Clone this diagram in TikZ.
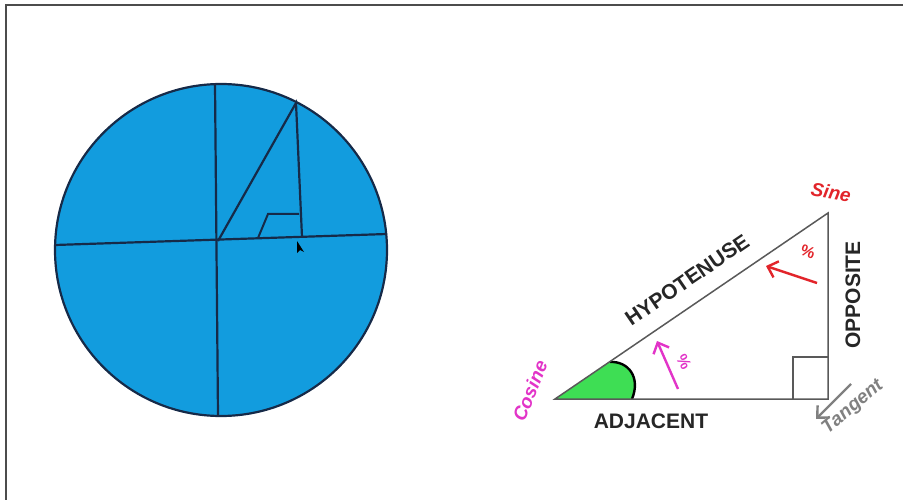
\documentclass[tikz,border=0pt]{standalone}
\usepackage{fontspec}
\setmainfont{Liberation Sans}
\usepackage{xcolor}
\usetikzlibrary{arrows.meta, calc}

\definecolor{discblue}{RGB}{18,156,222}
\definecolor{discline}{RGB}{22,42,72}
\definecolor{wedgegreen}{RGB}{62,222,84}
\definecolor{sinered}{RGB}{226,36,42}
\definecolor{cosmag}{RGB}{226,52,200}
\definecolor{tangray}{RGB}{128,128,128}

\begin{document}
\begin{tikzpicture}[
  x=1pt, y=-1pt,
  every node/.style={font=\bfseries\fontsize{21}{24}\selectfont, inner sep=0pt},
  side/.style={text=black!85},
  ratio/.style={font=\bfseries\itshape\fontsize{19}{22}\selectfont},
  pct/.style={font=\bfseries\fontsize{16}{18}\selectfont},
  disc/.style={draw=discline, line width=2.2pt},
  leg/.style={draw=black!65, line width=1.5pt},
  hint/.style={line width=2.4pt, -{Straight Barb[length=9pt,width=17pt]}}
]
  \useasboundingbox (0,0) rectangle (903,500);
  \draw[black!70, line width=1.5pt] (6,500) -- (6,5) -- (903,5);

  % unit circle
  \coordinate (O) at (218,241);
  \coordinate (P) at (296,103);
  \coordinate (F) at (302,237);
  \fill[discblue] (221,250) circle[radius=166pt];
  \draw[disc] (215,84) -- (218,416);
  \draw[disc] (55,245) -- (387,234);
  \draw[disc] (O) -- (P) -- (F);
  \draw[disc, line width=2pt] (258,238) -- (268,214) -- (299,214);
  \draw[disc] (221,250) circle[radius=166pt];
  \fill[black] (297,241) -- (297,253) -- (300,250) -- (304,252) -- cycle;

  % right triangle
  \coordinate (A) at (555,399);
  \coordinate (B) at (828,399);
  \coordinate (C) at (828,213);
  \fill[wedgegreen] (A) -- (632,399) .. controls (641,377) and (628,361) .. (610,362) -- cycle;
  \draw[black, line width=2.4pt] (632,399) .. controls (641,377) and (628,361) .. (610,362);
  \draw[leg] (A) -- (B) -- (C) -- cycle;
  \draw[leg, line width=1.3pt] (793,399) -- (793,357) -- (828,357);

  \node[side, rotate=34.3] (hyp) at (687,280) {HYPOTENUSE};
  \node[side, rotate=90] (opp) at (853,295) {OPPOSITE};
  \node[side] (adj) at (651,421) {ADJACENT};
  \node[ratio, text=sinered, rotate=-10] (sine) at (831,192) {Sine};
  \node[ratio, text=cosmag, rotate=68] (cosine) at (530,391) {Cosine};
  \node[ratio, text=tangray, rotate=40] (tangent) at (853,407) {Tangent};

  \draw[hint, sinered] (817,283) -- (766,266);
  \node[pct, text=sinered, rotate=-20] (pctsine) at (808,252) {\%};
  \draw[hint, cosmag] (678,389) -- (657,341);
  \node[pct, text=cosmag, rotate=-60] (pctcos) at (684,362) {\%};
  \draw[hint, tangray] (851,384) -- (816,419);
\end{tikzpicture}
\end{document}
